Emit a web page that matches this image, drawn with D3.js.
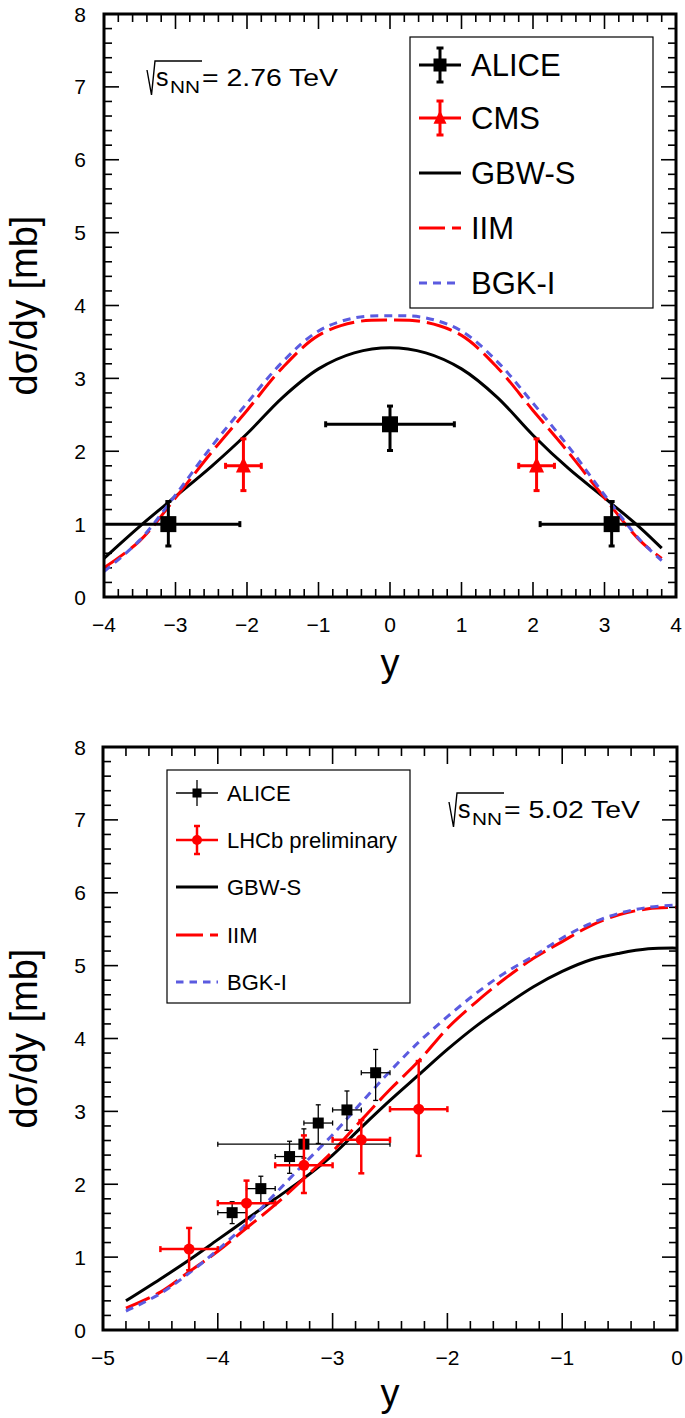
<!DOCTYPE html>
<html><head><meta charset="utf-8">
<script src="https://cdn.jsdelivr.net/npm/d3@7"></script>
<style>
html,body{margin:0;padding:0;background:#fff;}
svg text{font-family:"Liberation Sans",Arial,Helvetica,sans-serif;fill:#000;}
</style></head>
<body>
<svg id="c" width="685" height="1418"></svg>
<script>
// ---------------- DATA ----------------
// Top panel: sqrt(sNN) = 2.76 TeV
const topRap   = [-4,-3.5,-3,-2.5,-2,-1.5,-1,-0.5,0,0.5,1,1.5,2,2.5,3,3.5,3.8];
const topGBWS  = [0.53,0.97,1.38,1.79,2.24,2.74,3.13,3.35,3.42,3.35,3.13,2.74,2.22,1.76,1.36,0.95,0.67];
const topIIM   = [0.40,0.77,1.36,1.98,2.56,3.15,3.59,3.77,3.80,3.77,3.59,3.15,2.56,1.98,1.36,0.77,0.53];
const topBGKI  = [0.35,0.78,1.40,2.06,2.66,3.23,3.65,3.83,3.86,3.83,3.65,3.23,2.66,2.06,1.40,0.78,0.50];
const topAliceY    = [-3.1, 0, 3.1];
const topAliceVal  = [1.00, 2.37, 1.00];
const topAliceXerr = [1.0, 0.9, 1.0];
const topAliceUp   = [0.31, 0.25, 0.31];
const topAliceDn   = [0.30, 0.36, 0.30];
const cmsY    = [-2.05, 2.05];
const cmsVal  = [1.80, 1.80];
const cmsXerr = [0.25, 0.25];
const cmsUp   = [0.37, 0.37];
const cmsDn   = [0.34, 0.34];

// Bottom panel: sqrt(sNN) = 5.02 TeV
const botRap   = [-4.8,-4.5,-4.25,-4,-3.75,-3.5,-3.25,-3,-2.75,-2.5,-2.25,-2,-1.75,-1.5,-1.25,-1,-0.75,-0.5,-0.25,0];
const botGBWS  = [0.40,0.70,0.96,1.24,1.52,1.80,2.08,2.40,2.78,3.15,3.50,3.85,4.17,4.45,4.71,4.92,5.08,5.17,5.23,5.24];
const botIIM   = [0.30,0.52,0.80,1.08,1.40,1.72,2.08,2.45,2.88,3.30,3.69,4.14,4.50,4.82,5.10,5.33,5.55,5.70,5.78,5.80];
const botBGKI  = [0.26,0.50,0.78,1.10,1.46,1.87,2.28,2.68,3.12,3.55,3.95,4.30,4.62,4.90,5.13,5.38,5.58,5.72,5.80,5.83];
const botAliceY    = [-3.875,-3.625,-3.375,-3.125,-2.875,-2.625,-3.25];
const botAliceVal  = [1.61,1.94,2.38,2.84,3.02,3.53,2.55];
const botAliceXerr = [0.125,0.125,0.125,0.125,0.125,0.125,0.75];
const botAliceUp   = [0.15,0.17,0.21,0.25,0.26,0.32,0.21];
const botAliceDn   = [0.15,0.20,0.23,0.28,0.28,0.38,0.19];
const lhcbY    = [-4.25,-3.75,-3.25,-2.75,-2.25];
const lhcbVal  = [1.11,1.74,2.26,2.61,3.03];
const lhcbXerr = [0.25,0.25,0.25,0.25,0.25];
const lhcbUp   = [0.29,0.31,0.41,0.27,0.66];
const lhcbDn   = [0.29,0.34,0.38,0.46,0.64];

const yTicks = [0,1,2,3,4,5,6,7,8];
const topXTicks = [-4,-3,-2,-1,0,1,2,3,4];
const botXTicks = [-5,-4,-3,-2,-1,0];
const legTop = ["ALICE","CMS","GBW-S","IIM","BGK-I"];
const legBot = ["ALICE","LHCb preliminary","GBW-S","IIM","BGK-I"];

// ---------------- STYLE ----------------
const RED = "#ff0000", BLUE = "#5b5be0", BLACK = "#000";
const svg = d3.select("#c");
const fmt = v => (v < 0 ? "\u2212" + Math.abs(v) : String(v));

function panel(cfg){
  const g = svg.append("g");
  const x = d3.scaleLinear().domain(cfg.xdom).range(cfg.xr);
  const y = d3.scaleLinear().domain([0,8]).range(cfg.yr);
  const id = "clip" + cfg.name;
  svg.append("clipPath").attr("id", id).append("rect")
    .attr("x", cfg.xr[0]).attr("y", cfg.yr[1]).attr("width", cfg.xr[1]-cfg.xr[0]).attr("height", cfg.yr[0]-cfg.yr[1]);

  // ticks (all four sides, inward)
  const tk = g.append("g").attr("stroke", "#000").attr("stroke-width", 1.6);
  const xMinor = d3.range(Math.round(cfg.xdom[0]*5), Math.round(cfg.xdom[1]*5)+1).map(v=>v/5);
  xMinor.forEach(v=>{
    const major = Math.abs(v - Math.round(v)) < 1e-6;
    const L = major ? cfg.xMajLen : cfg.xMinLen;
    tk.append("line").attr("x1", x(v)).attr("x2", x(v)).attr("y1", cfg.yr[0]).attr("y2", cfg.yr[0]-L);
    tk.append("line").attr("x1", x(v)).attr("x2", x(v)).attr("y1", cfg.yr[1]).attr("y2", cfg.yr[1]+L);
  });
  d3.range(0, 41).map(v=>v/5).forEach(v=>{
    const major = Math.abs(v - Math.round(v)) < 1e-6;
    const L = major ? 15 : 8;
    tk.append("line").attr("y1", y(v)).attr("y2", y(v)).attr("x1", cfg.xr[0]).attr("x2", cfg.xr[0]+L);
    tk.append("line").attr("y1", y(v)).attr("y2", y(v)).attr("x1", cfg.xr[1]).attr("x2", cfg.xr[1]-L);
  });

  // tick labels
  g.selectAll(".yl").data(yTicks).enter().append("text")
    .attr("x", 86).attr("y", d=>y(d)+7.5).attr("text-anchor","end").attr("font-size",21).text(d=>d);
  g.selectAll(".xl").data(cfg.xticks).enter().append("text")
    .attr("x", d=>x(d)).attr("y", cfg.yr[0]+35).attr("text-anchor","middle").attr("font-size",21).text(fmt);

  // axis titles
  g.append("text").attr("transform", `translate(37,${(cfg.yr[0]+cfg.yr[1])/2}) rotate(-90)`)
    .attr("text-anchor","middle").attr("font-size",38).text("d\u03c3/dy [mb]");
  g.append("text").attr("x", (cfg.xr[0]+cfg.xr[1])/2).attr("y", cfg.xTitleY)
    .attr("text-anchor","middle").attr("font-size",38).text("y");

  const data = g.append("g").attr("clip-path", `url(#${id})`);
  return {g, x, y, data};
}

function curve(p, xs, ys, color, dash){
  const line = d3.line().x((d,i)=>p.x(xs[i])).y(d=>p.y(d)).curve(d3.curveCatmullRom.alpha(0.5));
  p.data.append("path").attr("d", line(ys)).attr("fill","none").attr("stroke", color)
    .attr("stroke-width", 3).attr("stroke-dasharray", dash || null);
}

function errPoints(p, xs, vals, xerr, up, dn, opt){
  const eg = p.data.append("g").attr("stroke", opt.color).attr("stroke-width", opt.sw).attr("fill", opt.color);
  xs.forEach((xv,i)=>{
    const cx = p.x(xv), cy = p.y(vals[i]);
    const x1 = p.x(xv - xerr[i]), x2 = p.x(xv + xerr[i]);
    const y1 = p.y(vals[i] + up[i]), y2 = p.y(vals[i] - dn[i]);
    const c = opt.cap/2;
    eg.append("line").attr("x1",x1).attr("x2",x2).attr("y1",cy).attr("y2",cy);
    eg.append("line").attr("x1",cx).attr("x2",cx).attr("y1",y1).attr("y2",y2);
    eg.append("line").attr("x1",cx-c).attr("x2",cx+c).attr("y1",y1).attr("y2",y1);
    eg.append("line").attr("x1",cx-c).attr("x2",cx+c).attr("y1",y2).attr("y2",y2);
    eg.append("line").attr("x1",x1).attr("x2",x1).attr("y1",cy-c).attr("y2",cy+c);
    eg.append("line").attr("x1",x2).attr("x2",x2).attr("y1",cy-c).attr("y2",cy+c);
    marker(eg, opt.marker, cx, cy, opt.ms, opt.color);
  });
}

function marker(g, type, cx, cy, s, color){
  if(type==="square") g.append("rect").attr("x",cx-s/2).attr("y",cy-s/2).attr("width",s).attr("height",s).attr("fill",color).attr("stroke","none");
  if(type==="circle") g.append("circle").attr("cx",cx).attr("cy",cy).attr("r",s/2).attr("fill",color).attr("stroke","none");
  if(type==="triangle") g.append("path").attr("d",`M${cx},${cy-s*0.6}L${cx+s/2},${cy+s*0.45}L${cx-s/2},${cy+s*0.45}Z`).attr("fill",color).attr("stroke","none");
}

function frame(p, cfg){
  p.g.append("rect").attr("x",cfg.xr[0]).attr("y",cfg.yr[1]).attr("width",cfg.xr[1]-cfg.xr[0]).attr("height",cfg.yr[0]-cfg.yr[1])
    .attr("fill","none").attr("stroke","#000").attr("stroke-width",3);
}

function energyLabel(g, x0, base, energy){
  // radical sign
  g.append("path").attr("d",`M${x0},${base-16}L${x0+4.5},${base+9}L${x0+8},${base-25}L${x0+55},${base-25}`)
    .attr("fill","none").attr("stroke","#000").attr("stroke-width",1.4);
  g.append("text").attr("x",x0+9).attr("y",base).attr("font-size",25).text("s");
  g.append("text").attr("x",x0+23).attr("y",base+7).attr("font-size",17).attr("textLength",30).attr("lengthAdjust","spacingAndGlyphs").text("NN");
  g.append("text").attr("x",x0+55).attr("y",base).attr("font-size",24).attr("textLength",136).attr("lengthAdjust","spacingAndGlyphs").text("= " + energy + " TeV");
}

function legend(g, box, names, rowY, symX, textX, fs, styles){
  g.append("rect").attr("x",box[0]).attr("y",box[1]).attr("width",box[2]-box[0]).attr("height",box[3]-box[1])
    .attr("fill","#fff").attr("stroke","#000").attr("stroke-width",1.2);
  names.forEach((n,i)=>{
    const cy = rowY[i], st = styles[i];
    const cx = (symX[0]+symX[1])/2;
    if(st.type==="point"){
      const sg = g.append("g").attr("stroke",st.color).attr("stroke-width",st.sw);
      sg.append("line").attr("x1",symX[0]).attr("x2",symX[1]).attr("y1",cy).attr("y2",cy);
      sg.append("line").attr("x1",cx).attr("x2",cx).attr("y1",cy-st.eh).attr("y2",cy+st.eh);
      if(st.cap){
        sg.append("line").attr("x1",cx-st.cap/2).attr("x2",cx+st.cap/2).attr("y1",cy-st.eh).attr("y2",cy-st.eh);
        sg.append("line").attr("x1",cx-st.cap/2).attr("x2",cx+st.cap/2).attr("y1",cy+st.eh).attr("y2",cy+st.eh);
      }
      marker(sg, st.marker, cx, cy, st.ms, st.color);
    } else {
      g.append("line").attr("x1",symX[0]).attr("x2",symX[1]).attr("y1",cy).attr("y2",cy)
        .attr("stroke",st.color).attr("stroke-width",3).attr("stroke-dasharray",st.dash||null);
    }
    g.append("text").attr("x",textX).attr("y",cy+fs*0.36).attr("font-size",fs).text(n);
  });
}

// ---------------- TOP PANEL ----------------
const cfgT = {name:"T", xdom:[-4,4], xr:[104,676], yr:[597,14], xticks:topXTicks, xMajLen:15, xMinLen:8, xTitleY:676};
const pT = panel(cfgT);
curve(pT, topRap, topGBWS, BLACK);
curve(pT, topRap, topIIM, RED, "26,7");
curve(pT, topRap, topBGKI, BLUE, "8,6");
errPoints(pT, cmsY, cmsVal, cmsXerr, cmsUp, cmsDn, {color:RED, sw:3, cap:6, marker:"triangle", ms:15});
errPoints(pT, topAliceY, topAliceVal, topAliceXerr, topAliceUp, topAliceDn, {color:BLACK, sw:3, cap:6, marker:"square", ms:16});
frame(pT, cfgT);
energyLabel(pT.g, 147, 86, "2.76");
legend(pT.g, [410,37,653,308], legTop, [65,118,173,228,283], [419,461], 471, 31, [
  {type:"point", color:BLACK, sw:3, eh:17, cap:7, marker:"square", ms:13},
  {type:"point", color:RED, sw:3, eh:17, cap:7, marker:"triangle", ms:13},
  {type:"line", color:BLACK},
  {type:"line", color:RED, dash:"26,7"},
  {type:"line", color:BLUE, dash:"8,6"}
]);

// ---------------- BOTTOM PANEL ----------------
const cfgB = {name:"B", xdom:[-5,0], xr:[103,677], yr:[1330,747], xticks:botXTicks, xMajLen:17, xMinLen:9, xTitleY:1406};
const pB = panel(cfgB);
curve(pB, botRap, botGBWS, BLACK);
curve(pB, botRap, botIIM, RED, "26,7");
curve(pB, botRap, botBGKI, BLUE, "8,6");
errPoints(pB, botAliceY, botAliceVal, botAliceXerr, botAliceUp, botAliceDn, {color:BLACK, sw:1.3, cap:5, marker:"square", ms:11});
errPoints(pB, lhcbY, lhcbVal, lhcbXerr, lhcbUp, lhcbDn, {color:RED, sw:2.5, cap:6, marker:"circle", ms:11});
frame(pB, cfgB);
energyLabel(pB.g, 449, 818, "5.02");
legend(pB.g, [167,770,410,1003], legBot, [793,840,887,935,982], [176,218], 227, 22, [
  {type:"point", color:BLACK, sw:1.3, eh:13, cap:0, marker:"square", ms:9},
  {type:"point", color:RED, sw:2.5, eh:14, cap:6, marker:"circle", ms:10},
  {type:"line", color:BLACK},
  {type:"line", color:RED, dash:"27,7"},
  {type:"line", color:BLUE, dash:"7.5,6"}
]);
</script>
</body></html>
